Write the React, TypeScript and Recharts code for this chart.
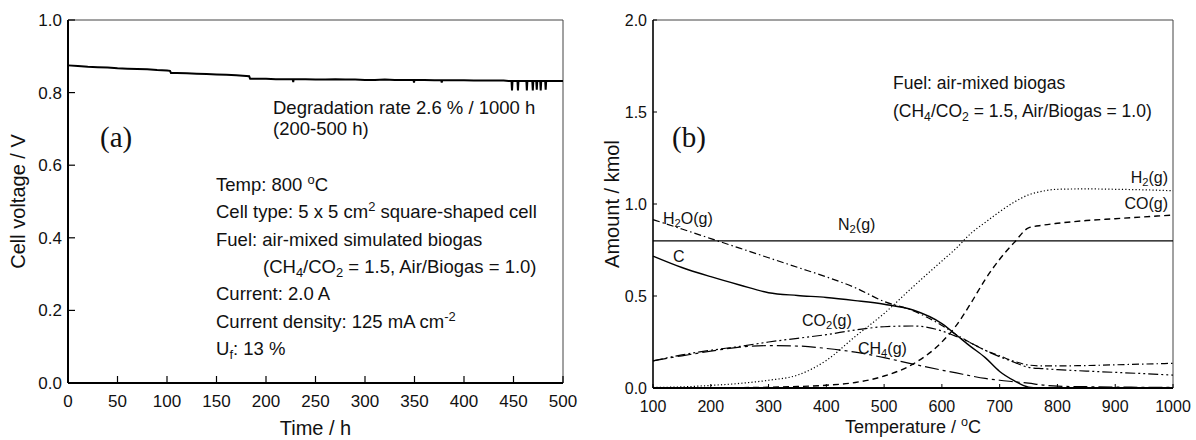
import React from 'react'
import { LineChart, Line, XAxis, YAxis, ReferenceLine } from 'recharts'

const SANS = '"Liberation Sans", Arial, Helvetica, sans-serif'
const SERIF = '"Liberation Serif", "DejaVu Serif", serif'

// (a) durability test at 800 C
const hours = [
    0, 10, 20, 30, 40, 50, 60, 70, 80, 90,
    100, 103, 104, 110, 120, 130, 140, 150, 160, 170,
    180, 183, 184, 190, 200, 210, 220, 227, 227.5, 228,
    240, 250, 260, 270, 280, 290, 300, 310, 320, 330,
    340, 349, 349.5, 350, 360, 370, 377, 377.5, 378, 390,
    400, 410, 420, 430, 440, 445, 448, 448.5, 449, 454,
    454.5, 455, 463, 463.5, 464, 469, 469.5, 470, 473, 473.5,
    474, 477, 477.5, 478, 482, 482.5, 483, 490, 500,
]
const voltage = [
    0.875, 0.873, 0.871, 0.87, 0.869, 0.867, 0.866, 0.865, 0.864, 0.862,
    0.861, 0.86, 0.854, 0.854, 0.853, 0.852, 0.851, 0.85, 0.849, 0.848,
    0.846, 0.845, 0.838, 0.838, 0.838, 0.837, 0.837, 0.837, 0.829, 0.837,
    0.837, 0.836, 0.836, 0.837, 0.836, 0.836, 0.835, 0.835, 0.836, 0.835,
    0.835, 0.835, 0.828, 0.835, 0.835, 0.834, 0.834, 0.828, 0.834, 0.834,
    0.834, 0.833, 0.833, 0.833, 0.833, 0.832, 0.832, 0.806, 0.832, 0.832,
    0.806, 0.832, 0.832, 0.806, 0.832, 0.832, 0.806, 0.832, 0.832, 0.808,
    0.832, 0.832, 0.806, 0.832, 0.832, 0.808, 0.832, 0.832, 0.832,
]
const hourTicks = [0, 50, 100, 150, 200, 250, 300, 350, 400, 450, 500]
const voltTicks = [0, 0.2, 0.4, 0.6, 0.8, 1.0]

// (b) equilibrium composition, kmol
const temps = [100, 150, 200, 250, 300, 350, 400, 450, 500, 550, 600, 625, 650, 675, 700, 725, 750, 775, 800, 850, 900, 950, 1000]
const n2 = [0.8, 0.8, 0.8, 0.8, 0.8, 0.8, 0.8, 0.8, 0.8, 0.8, 0.8, 0.8, 0.8, 0.8, 0.8, 0.8, 0.8, 0.8, 0.8, 0.8, 0.8, 0.8, 0.8]
const h2o = [0.915, 0.864, 0.812, 0.76, 0.708, 0.656, 0.604, 0.545, 0.47, 0.42, 0.34, 0.29, 0.245, 0.205, 0.175, 0.145, 0.125, 0.12, 0.12, 0.122, 0.126, 0.13, 0.134]
const carbon = [0.717, 0.655, 0.605, 0.56, 0.518, 0.503, 0.492, 0.475, 0.455, 0.424, 0.35, 0.288, 0.225, 0.165, 0.09, 0.04, 0.005, 0, 0, 0, 0, 0, 0]
const co2 = [0.147, 0.18, 0.205, 0.226, 0.25, 0.27, 0.29, 0.315, 0.333, 0.337, 0.31, 0.28, 0.245, 0.205, 0.17, 0.14, 0.112, 0.105, 0.1, 0.092, 0.085, 0.078, 0.07]
const ch4 = [0.147, 0.175, 0.2, 0.222, 0.23, 0.228, 0.215, 0.195, 0.165, 0.13, 0.097, 0.082, 0.066, 0.052, 0.042, 0.034, 0.026, 0.016, 0.01, 0.007, 0.005, 0.004, 0.003]
const h2 = [0.003, 0.006, 0.014, 0.025, 0.042, 0.07, 0.15, 0.28, 0.405, 0.55, 0.69, 0.76, 0.84, 0.9, 0.958, 1.01, 1.05, 1.07, 1.08, 1.082, 1.08, 1.077, 1.072]
const co = [0, 0, 0.001, 0.002, 0.004, 0.008, 0.015, 0.03, 0.065, 0.13, 0.25, 0.34, 0.46, 0.59, 0.7, 0.79, 0.87, 0.885, 0.895, 0.91, 0.92, 0.93, 0.94]
const tempTicks = [100, 200, 300, 400, 500, 600, 700, 800, 900, 1000]
const amountTicks = [0, 0.5, 1.0, 1.5, 2.0]

const runData = hours.map((h, i) => ({ h, v: voltage[i] }))
const eqData = temps.map((t, i) => ({
    t, n2: n2[i], h2o: h2o[i], c: carbon[i], co2: co2[i], ch4: ch4[i], h2: h2[i], co: co[i],
}))

const fmt1 = (v: number) => v.toFixed(1)

type Seg = string | { sub?: string; sup?: string }

function Rich({ x, y, segs, size = 18.5, anchor = 'start', font = SANS }: {
    x: number; y: number; segs: Seg[]; size?: number; anchor?: 'start' | 'middle' | 'end'; font?: string
}) {
    let shift = 0
    const parts = segs.map((s, i) => {
        let target = 0
        let text = ''
        let fs = size
        if (typeof s === 'string') {
            text = s
        } else if (s.sub) {
            target = size * 0.2
            text = s.sub
            fs = size * 0.7
        } else {
            target = -size * 0.38
            text = s.sup || ''
            fs = size * 0.7
        }
        const dy = target - shift
        shift = target
        return <tspan key={i} dy={dy} fontSize={fs}>{text}</tspan>
    })
    return (
        <text x={x} y={y} fontSize={size} fontFamily={font} fill="#111" textAnchor={anchor} style={{ whiteSpace: 'pre' }}>
            {parts}
        </text>
    )
}

const seriesB = [
    { key: 'n2', dash: undefined, width: 1.2 },
    { key: 'c', dash: undefined, width: 1.4 },
    { key: 'h2', dash: '1.2 2.2', width: 1.2 },
    { key: 'co', dash: '6 4', width: 1.4 },
    { key: 'h2o', dash: '7 3 1.5 3', width: 1.2 },
    { key: 'co2', dash: '10 3 2 3 2 3', width: 1.2 },
    { key: 'ch4', dash: '14 4 3 4', width: 1.2 },
]

export default function App() {
    const tickA = { fill: '#111', fontSize: 17, fontFamily: SANS }
    const tickB = { fill: '#111', fontSize: 16, fontFamily: SANS }
    return (
        <div style={{ position: 'absolute', left: 0, top: 0, width: 1196, height: 440, background: '#fff' }}>
            <div style={{ position: 'absolute', left: 0, top: 0 }}>
                <LineChart width={590} height={440} data={runData} margin={{ top: 20, right: 27, bottom: 0, left: 0 }}>
                    <XAxis
                        dataKey="h" type="number" domain={[0, 500]} ticks={hourTicks} interval={0} height={57}
                        tickSize={-7} tickMargin={19} tick={tickA}
                        axisLine={{ stroke: '#000', strokeWidth: 2 }} tickLine={{ stroke: '#000', strokeWidth: 1.2 }}
                        label={{ value: 'Time / h', position: 'insideBottom', offset: 5, style: { fontSize: 20, fontFamily: SANS, fill: '#111' } }}
                    />
                    <YAxis
                        type="number" domain={[0, 1]} ticks={voltTicks} interval={0} width={68} tickFormatter={fmt1}
                        tickSize={-7} tickMargin={13} tick={tickA}
                        axisLine={{ stroke: '#000', strokeWidth: 2 }} tickLine={{ stroke: '#000', strokeWidth: 1.2 }}
                        label={{ value: 'Cell voltage / V', angle: -90, position: 'insideLeft', offset: 18, style: { textAnchor: 'middle', fontSize: 20, fontFamily: SANS, fill: '#111' } }}
                    />
                    <ReferenceLine y={1} stroke="#444" strokeWidth={1} />
                    <ReferenceLine x={500} stroke="#444" strokeWidth={1} />
                    <Line dataKey="v" type="linear" stroke="#000" strokeWidth={2} dot={false} isAnimationActive={false} />
                </LineChart>
            </div>
            <div style={{ position: 'absolute', left: 590, top: 0 }}>
                <LineChart width={606} height={440} data={eqData} margin={{ top: 20, right: 23, bottom: 0, left: 0 }}>
                    <XAxis
                        dataKey="t" type="number" domain={[100, 1000]} ticks={tempTicks} interval={0} height={52}
                        tickSize={-4} tickMargin={17} tick={tickB}
                        axisLine={{ stroke: '#000', strokeWidth: 2 }} tickLine={{ stroke: '#000', strokeWidth: 1 }}
                    />
                    <YAxis
                        type="number" domain={[0, 2]} ticks={amountTicks} interval={0} width={63} tickFormatter={fmt1}
                        tickSize={-4} tickMargin={10} tick={tickB}
                        axisLine={{ stroke: '#000', strokeWidth: 1.6 }} tickLine={{ stroke: '#000', strokeWidth: 1 }}
                        label={{ value: 'Amount / kmol', angle: -90, position: 'insideLeft', offset: 22, style: { textAnchor: 'middle', fontSize: 20, fontFamily: SANS, fill: '#111' } }}
                    />
                    <ReferenceLine y={2} stroke="#444" strokeWidth={1} />
                    <ReferenceLine x={1000} stroke="#444" strokeWidth={1} />
                    {seriesB.map((s) => (
                        <Line
                            key={s.key} dataKey={s.key} type="monotone" stroke="#000" strokeWidth={s.width}
                            strokeDasharray={s.dash} dot={false} isAnimationActive={false}
                        />
                    ))}
                </LineChart>
            </div>
            <svg width={1196} height={440} style={{ position: 'absolute', left: 0, top: 0, pointerEvents: 'none' }}>
                {/* panel (a) notes */}
                <Rich x={273} y={114} segs={['Degradation rate 2.6 % / 1000 h']} />
                <Rich x={273} y={135} segs={['(200-500 h)']} />
                <Rich x={100} y={147} size={29} font={SERIF} segs={['(a)']} />
                <Rich x={216} y={191} segs={['Temp: 800 ', { sup: 'o' }, 'C']} />
                <Rich x={216} y={218} segs={['Cell type: 5 x 5 cm', { sup: '2' }, ' square-shaped cell']} />
                <Rich x={216} y={246} segs={['Fuel: air-mixed simulated biogas']} />
                <Rich x={263} y={273} segs={['(CH', { sub: '4' }, '/CO', { sub: '2' }, ' = 1.5, Air/Biogas = 1.0)']} />
                <Rich x={216} y={300} segs={['Current: 2.0 A']} />
                <Rich x={216} y={328} segs={['Current density: 125 mA cm', { sup: '-2' }]} />
                <Rich x={216} y={355} segs={['U', { sub: 'f' }, ': 13 %']} />

                {/* panel (b) notes */}
                <Rich x={893} y={89} size={17.5} segs={['Fuel: air-mixed biogas']} />
                <Rich x={893} y={117} size={17.5} segs={['(CH', { sub: '4' }, '/CO', { sub: '2' }, ' = 1.5, Air/Biogas = 1.0)']} />
                <Rich x={672} y={147} size={29} font={SERIF} segs={['(b)']} />
                <Rich x={663} y={224} size={16} segs={['H', { sub: '2' }, 'O(g)']} />
                <Rich x={838} y={230} size={16} segs={['N', { sub: '2' }, '(g)']} />
                <Rich x={673} y={262} size={16} segs={['C']} />
                <Rich x={802} y={326} size={16} segs={['CO', { sub: '2' }, '(g)']} />
                <Rich x={858} y={354} size={16} segs={['CH', { sub: '4' }, '(g)']} />
                <Rich x={1168} y={183} size={16} anchor="end" segs={['H', { sub: '2' }, '(g)']} />
                <Rich x={1168} y={209} size={16} anchor="end" segs={['CO(g)']} />
                <Rich x={913} y={433} size={18} anchor="middle" segs={['Temperature / ', { sup: 'o' }, 'C']} />
            </svg>
        </div>
    )
}
